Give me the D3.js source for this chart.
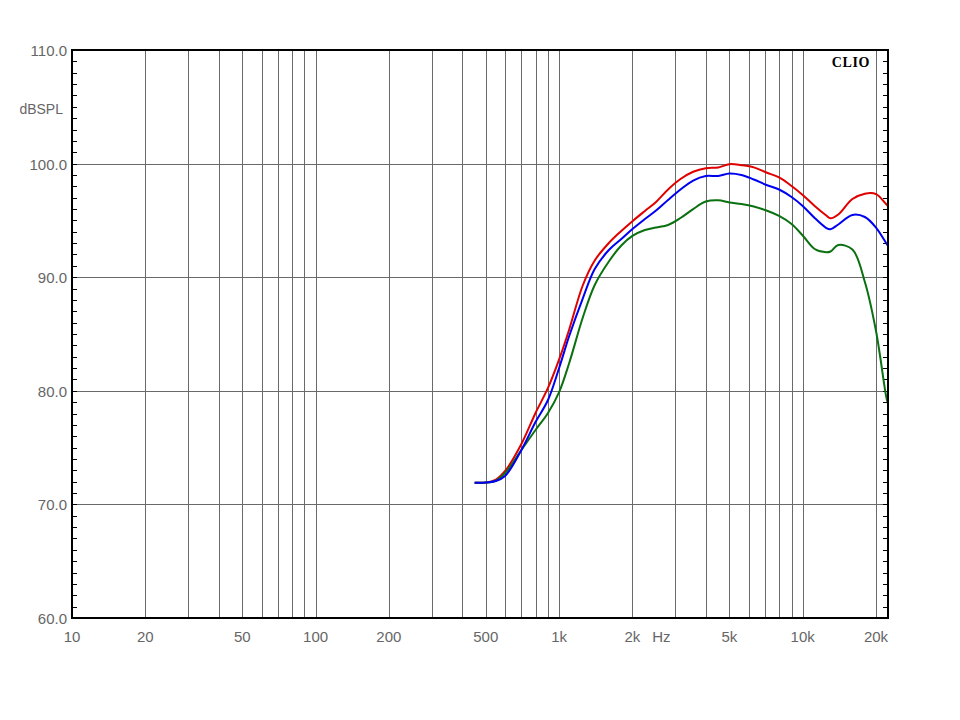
<!DOCTYPE html>
<html><head><meta charset="utf-8">
<script src="https://cdn.jsdelivr.net/npm/d3@7"></script>
<style>body{margin:0;background:#fff;}svg{display:block;}</style>
</head><body>
<svg id="c" width="960" height="720"></svg>
<script>
const freqs = [450,500,550,600,700,800,900,1000,1100,1250,1400,1600,1800,2000,2250,2500,2800,3150,3550,4000,4500,5000,5600,6300,7100,8000,9000,10000,11200,12500,13000,14000,16000,18000,20000,22000,22400];
const redDb = [71.91,71.93,72.19,72.94,75.32,78.05,80.25,82.76,85.40,89.27,91.47,93.01,94.07,94.93,95.83,96.62,97.72,98.64,99.28,99.60,99.66,99.95,99.86,99.67,99.22,98.78,98.03,97.24,96.27,95.43,95.18,95.52,96.88,97.35,97.32,96.44,96.27];
const blueDb = [71.91,71.92,72.06,72.50,74.79,77.25,79.19,82.01,84.82,88.12,90.72,92.39,93.36,94.24,95.12,95.87,96.80,97.72,98.51,98.91,98.91,99.13,99.00,98.60,98.12,97.72,97.06,96.27,95.21,94.33,94.22,94.64,95.48,95.30,94.37,93.01,92.75];
const greenDb = [71.91,71.92,72.10,72.76,74.79,76.55,78.05,79.89,82.45,86.43,89.31,91.38,92.79,93.63,94.15,94.37,94.60,95.21,96.00,96.66,96.77,96.58,96.44,96.22,95.87,95.39,94.68,93.67,92.48,92.19,92.26,92.83,92.44,89.58,85.26,79.54,78.84];
const xTickVals = [10,20,50,100,200,500,1000,2000,5000,10000,20000];
const xTickLabels = ["10","20","50","100","200","500","1k","2k","5k","10k","20k"];
const xGridVals = [20,30,40,50,60,70,80,90,100,200,300,400,500,600,700,800,900,1000,2000,3000,4000,5000,6000,7000,8000,9000,10000,20000];
const yTickVals = [60,70,80,90,100,110];
const yTickLabels = ["60.0","70.0","80.0","90.0","100.0","110.0"];
const yMinorVals = d3.range(61,110);

const svg = d3.select("#c");
const L=72, R=888, T=50, B=618;
const x = d3.scaleLog().domain([10,22400]).range([L,R]);
const y = d3.scaleLinear().domain([60,110]).range([B,T]);
const px = v => Math.round(v)+0.5;

const grid = svg.append("g");
grid.selectAll("line.v").data(xGridVals).enter().append("line")
  .attr("x1",d=>px(x(d))).attr("x2",d=>px(x(d))).attr("y1",T).attr("y2",B)
  .attr("stroke","#6a6a6a").attr("stroke-width",1);
grid.selectAll("line.h").data([70,80,90,100]).enter().append("line")
  .attr("y1",d=>px(y(d))).attr("y2",d=>px(y(d))).attr("x1",L).attr("x2",R)
  .attr("stroke","#6a6a6a").attr("stroke-width",1);

const ticks = svg.append("g");
ticks.selectAll("line.l").data(yMinorVals).enter().append("line")
  .attr("x1",L).attr("x2",L+5).attr("y1",d=>px(y(d))).attr("y2",d=>px(y(d)))
  .attr("stroke","#000").attr("stroke-width",1);
ticks.selectAll("line.r").data(yMinorVals).enter().append("line")
  .attr("x1",R-5).attr("x2",R).attr("y1",d=>px(y(d))).attr("y2",d=>px(y(d)))
  .attr("stroke","#000").attr("stroke-width",1);

const line = d3.line().x(d=>x(d[0])).y(d=>y(d[1])).curve(d3.curveCatmullRom.alpha(0.5));
const series = [
  {vals:redDb, color:"#e00000"},
  {vals:greenDb, color:"#0a7010"},
  {vals:blueDb, color:"#0000f0"}
];
svg.append("g").selectAll("path").data(series).enter().append("path")
  .attr("d",s=>line(freqs.map((f,i)=>[f,s.vals[i]])))
  .attr("fill","none").attr("stroke",s=>s.color).attr("stroke-width",2)
  .attr("stroke-linejoin","round");

svg.append("rect").attr("x",L).attr("y",T).attr("width",R-L).attr("height",B-T)
  .attr("fill","none").attr("stroke","#000").attr("stroke-width",2);

const font = "'Liberation Sans', Arial, sans-serif";
const tcol = "#666";
svg.append("g").selectAll("text").data(yTickVals).enter().append("text")
  .attr("x",67).attr("y",d=>y(d)+6).attr("text-anchor","end")
  .attr("font-family",font).attr("font-size",15).attr("fill",tcol)
  .text((d,i)=>yTickLabels[i]);
svg.append("text").attr("x",63).attr("y",114).attr("text-anchor","end")
  .attr("font-family",font).attr("font-size",14).attr("fill",tcol).text("dBSPL");
svg.append("g").selectAll("text").data(xTickVals).enter().append("text")
  .attr("x",d=>x(d)).attr("y",642).attr("text-anchor","middle")
  .attr("font-family",font).attr("font-size",15).attr("fill",tcol)
  .text((d,i)=>xTickLabels[i]);
svg.append("text").attr("x",x(2000)+29).attr("y",642).attr("text-anchor","middle")
  .attr("font-family",font).attr("font-size",15).attr("fill",tcol).text("Hz");
svg.append("text").attr("x",870).attr("y",67).attr("text-anchor","end")
  .attr("font-family","'Liberation Serif','DejaVu Serif',serif").attr("font-weight","bold")
  .attr("font-size",14).attr("letter-spacing",0.6).attr("fill","#000").text("CLIO");
</script>
</body></html>
